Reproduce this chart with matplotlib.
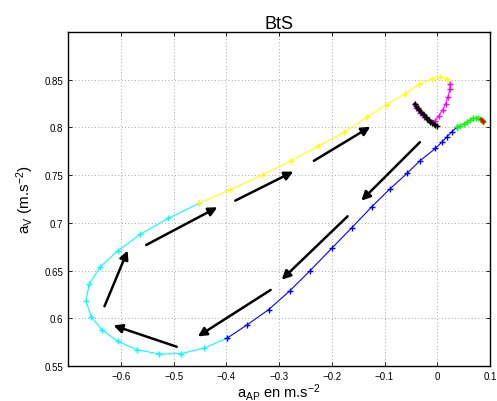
import matplotlib
matplotlib.use("Agg")
import matplotlib.pyplot as plt
import numpy as np

plt.rcParams['font.family'] = ['Liberation Sans', 'DejaVu Sans']
plt.rcParams['mathtext.fontset'] = 'custom'
plt.rcParams['mathtext.rm'] = 'Liberation Sans'
plt.rcParams['mathtext.it'] = 'Liberation Sans'

# Data segments (x = a_AP, y = a_V)
cyan_x = [-0.399, -0.443, -0.486, -0.527, -0.569, -0.606, -0.636, -0.656, -0.666, -0.660,
          -0.639, -0.605, -0.563, -0.510, -0.451]
cyan_y = [0.579, 0.5686, 0.563, 0.5626, 0.567, 0.576, 0.588, 0.6017, 0.618, 0.636,
          0.654, 0.671, 0.688, 0.7048, 0.7205]

yellow_x = [-0.451, -0.393, -0.332, -0.277, -0.227, -0.176, -0.133, -0.096, -0.061, -0.0346,
            -0.0106, 0.0053, 0.018, 0.024]
yellow_y = [0.7205, 0.7348, 0.750, 0.765, 0.780, 0.795, 0.8107, 0.824, 0.8354, 0.845,
            0.8508, 0.853, 0.851, 0.8456]

magenta_x = [0.024, 0.024, 0.020, 0.016, 0.010, 0.003, -0.005, -0.015, -0.025, -0.033, -0.040, -0.043]
magenta_y = [0.8456, 0.840, 0.832, 0.825, 0.818, 0.812, 0.807, 0.808, 0.811, 0.815, 0.820, 0.825]

black_x = [-0.043, -0.040, -0.037, -0.034, -0.031, -0.028, -0.025, -0.022, -0.019, -0.016,
           -0.013, -0.010, -0.007, -0.004, -0.001]
black_y = [0.825, 0.8225, 0.820, 0.8185, 0.8165, 0.8145, 0.8125, 0.811, 0.809, 0.8075,
           0.806, 0.8045, 0.8035, 0.8025, 0.802]

green_x = [0.037, 0.043, 0.050, 0.056, 0.062, 0.068, 0.073, 0.078, 0.081, 0.084, 0.086, 0.087]
green_y = [0.800, 0.802, 0.804, 0.806, 0.808, 0.8096, 0.810, 0.810, 0.809, 0.808, 0.807, 0.806]

red_x = [0.082, 0.084, 0.086, 0.087]
red_y = [0.809, 0.808, 0.807, 0.806]

blue_x = [0.037, 0.0275, 0.018, 0.0085, -0.0035, -0.033, -0.057, -0.090, -0.124, -0.162,
          -0.200, -0.241, -0.280, -0.320, -0.361, -0.399]
blue_y = [0.800, 0.7956, 0.790, 0.7845, 0.778, 0.765, 0.752, 0.7355, 0.717, 0.695,
          0.6734, 0.650, 0.6286, 0.609, 0.593, 0.579]

# Arrows: (tail_x, tail_y, head_x, head_y)
arrows = [
    (-0.234, 0.765, -0.127, 0.8007),
    (-0.383, 0.7233, -0.273, 0.7537),
    (-0.552, 0.6768, -0.417, 0.7163),
    (-0.631, 0.6126, -0.587, 0.671),
    (-0.494, 0.5702, -0.614, 0.5925),
    (-0.316, 0.6297, -0.454, 0.581),
    (-0.170, 0.7069, -0.295, 0.6405),
    (-0.033, 0.7845, -0.144, 0.7233),
]

xticks = [-0.6, -0.5, -0.4, -0.3, -0.2, -0.1, 0, 0.1]
xticklabels = ['\u22120.6', '\u22120.5', '\u22120.4', '\u22120.3', '\u22120.2', '\u22120.1', '0', '0.1']
yticks = [0.55, 0.6, 0.65, 0.7, 0.75, 0.8, 0.85]
yticklabels = ['0.55', '0.6', '0.65', '0.7', '0.75', '0.8', '0.85']

fig = plt.figure(figsize=(4.97, 4.02), dpi=100)
ax = fig.add_axes([0.137, 0.087, 0.849, 0.831])

ms = 5
ax.plot(cyan_x, cyan_y, '-+', color='cyan', lw=0.8, ms=ms)
ax.plot(yellow_x, yellow_y, '-+', color='yellow', lw=0.8, ms=ms)
ax.plot(magenta_x, magenta_y, '-+', color='magenta', lw=0.8, ms=ms)
ax.plot(black_x, black_y, '-+', color='black', lw=1.5, ms=ms)
ax.plot(blue_x, blue_y, '-+', color='blue', lw=0.8, ms=ms)
ax.plot(green_x, green_y, '-+', color='lime', lw=0.8, ms=ms)
ax.plot(red_x, red_y, '-+', color='red', lw=0.8, ms=3)

for tx, ty, hx, hy in arrows:
    ax.annotate('', xy=(hx, hy), xytext=(tx, ty),
                arrowprops=dict(arrowstyle='-|>', color='black', lw=1.8,
                                mutation_scale=13, shrinkA=0, shrinkB=0))

ax.set_xlim(-0.7, 0.1)
ax.set_ylim(0.55, 0.9)
ax.set_xticks(xticks)
ax.set_xticklabels(xticklabels)
ax.set_yticks(yticks)
ax.set_yticklabels(yticklabels)
ax.tick_params(direction='in', top=True, right=True, labelsize=7, length=3, width=0.6)
ax.grid(True, linestyle=(0, (1, 3)), color='#888888', lw=0.6)
for s in ax.spines.values():
    s.set_linewidth(1.0)

ax.set_title('BtS', fontsize=13, pad=3)
ax.set_xlabel(r'a$_{AP}$ en m.s$^{-2}$', fontsize=10.5, labelpad=0)
ax.set_ylabel(r'a$_{V}$ (m.s$^{-2}$)', fontsize=11, labelpad=6)

fig.savefig('out.png', dpi=100)
